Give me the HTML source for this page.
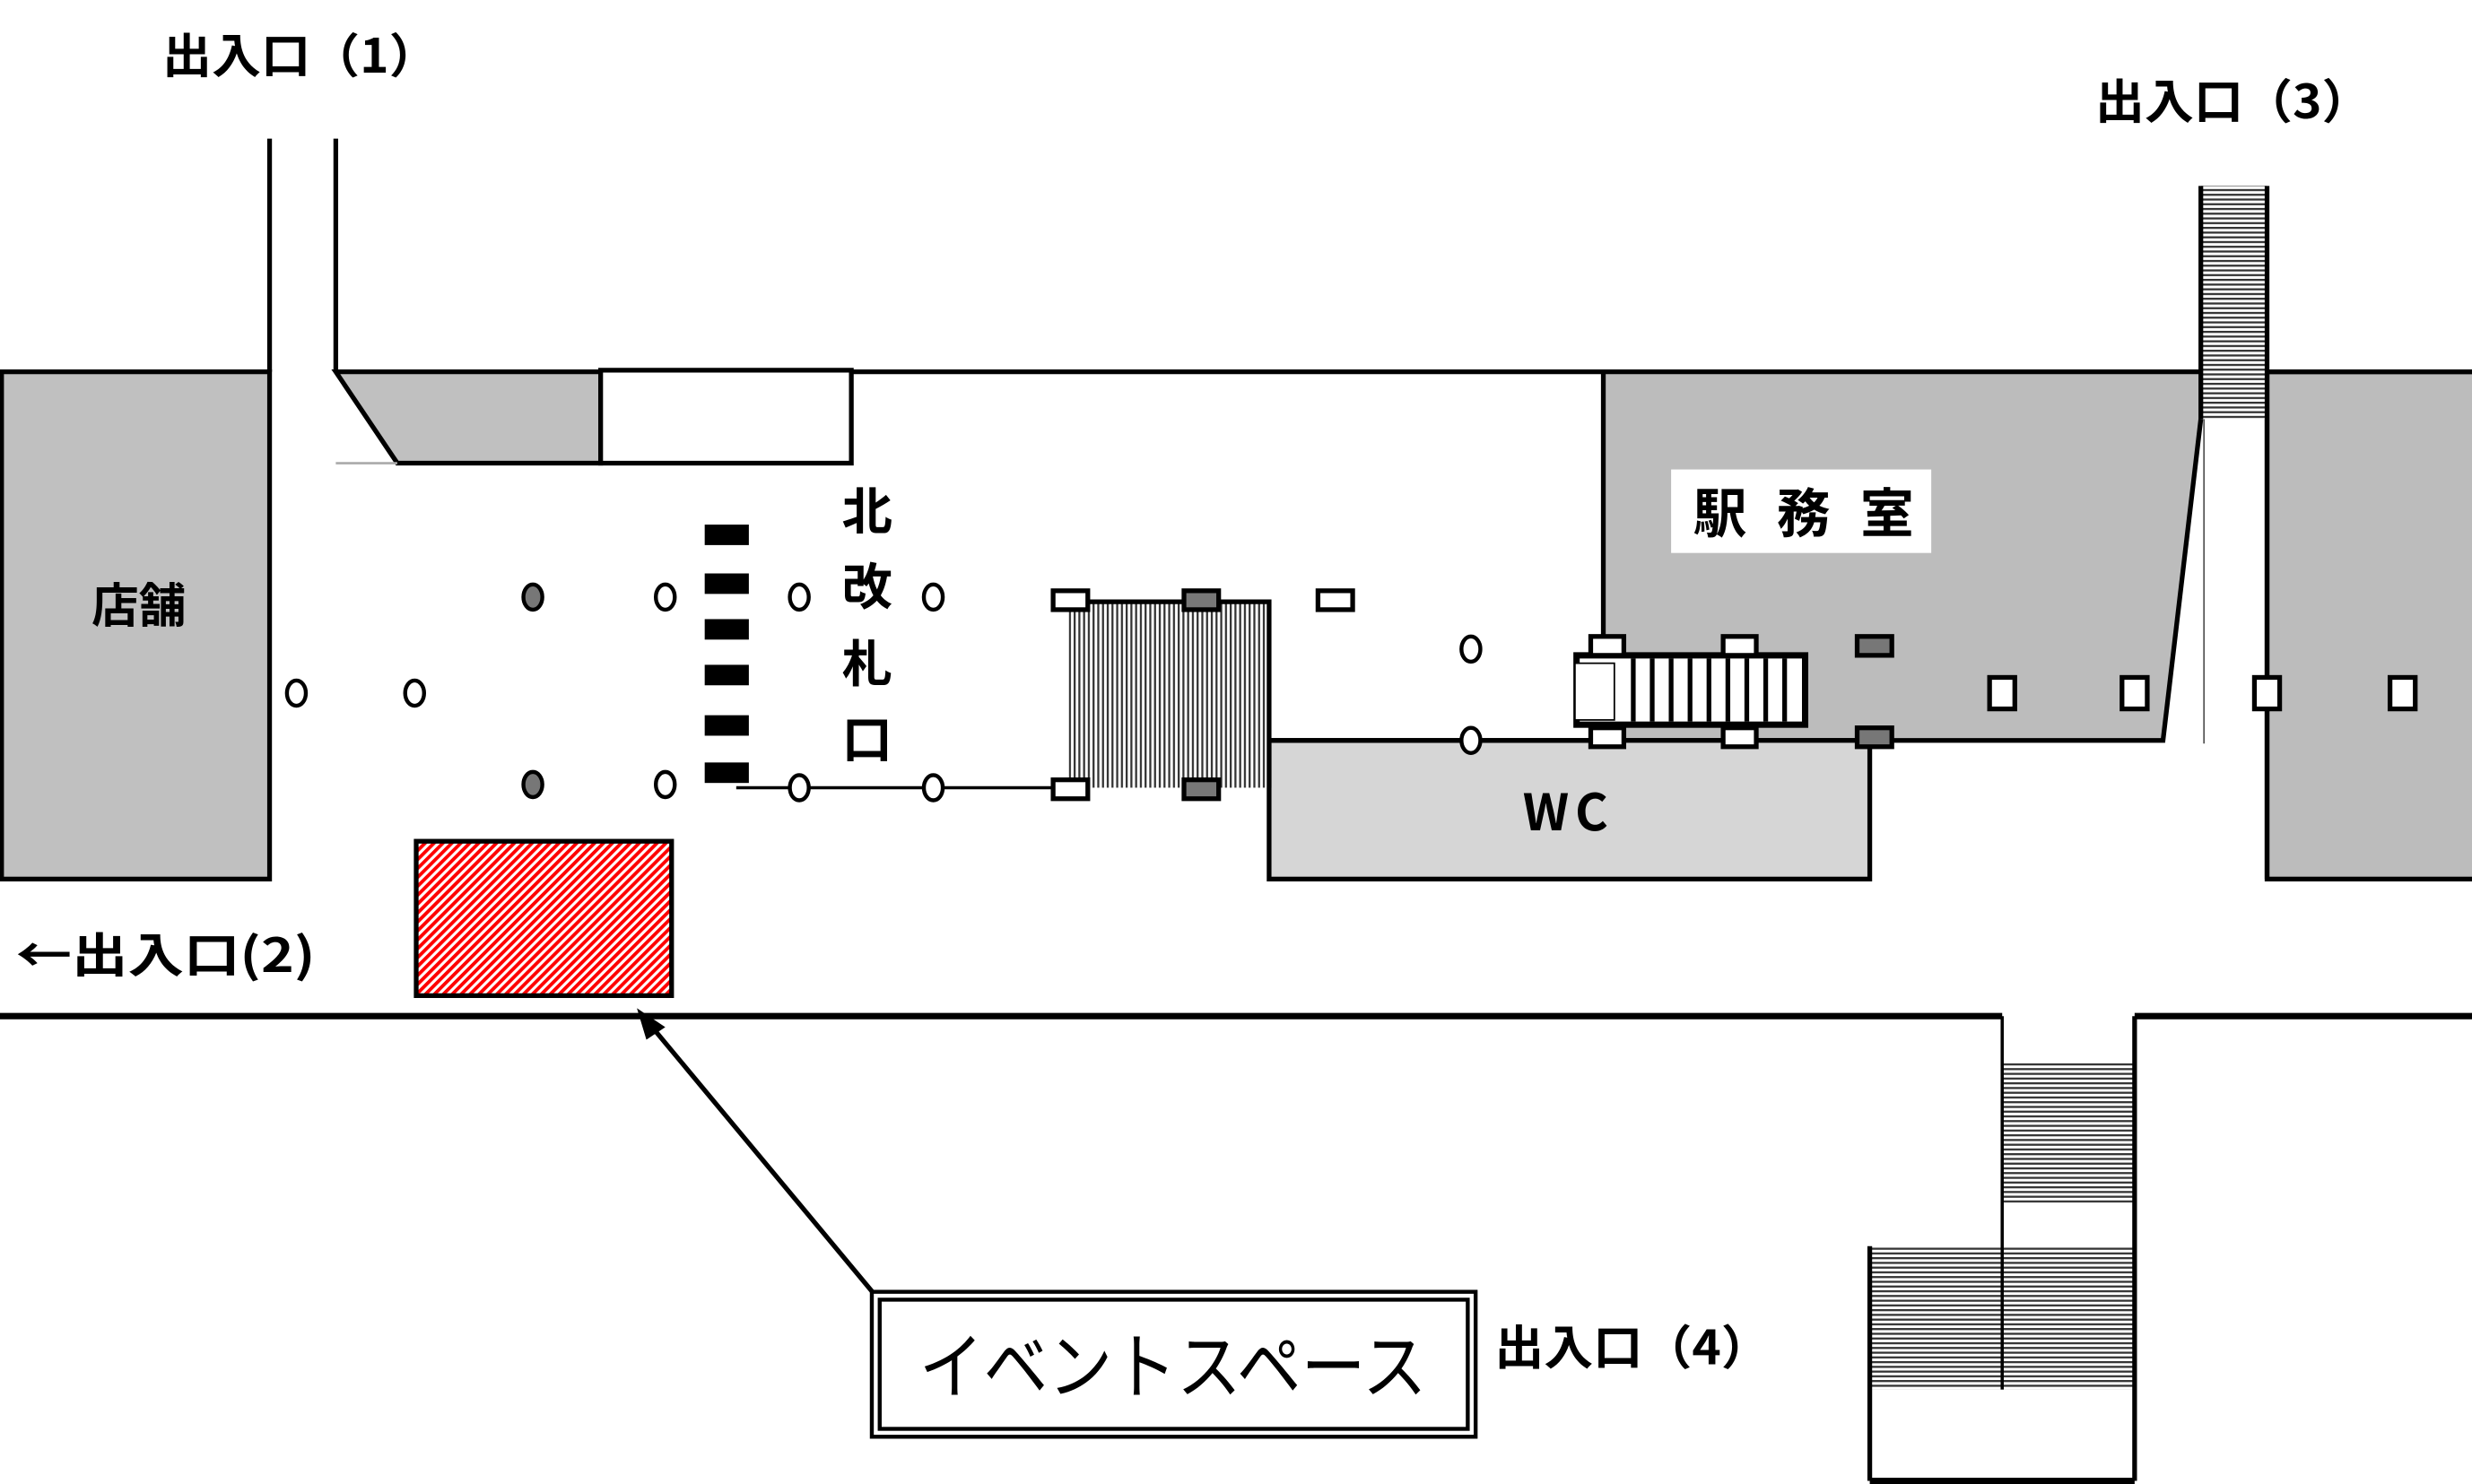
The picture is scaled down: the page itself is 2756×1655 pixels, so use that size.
<!DOCTYPE html>
<html><head><meta charset="utf-8"><style>
html,body{margin:0;padding:0;background:#fff;}
svg{display:block;}
text{font-family:"Noto Sans CJK JP","Liberation Sans",sans-serif;fill:#000;}
</style></head><body>
<svg width="2756" height="1655" viewBox="0 0 1568 942" preserveAspectRatio="none" xmlns="http://www.w3.org/2000/svg">
<defs>
<pattern id="red" width="4" height="4" patternUnits="userSpaceOnUse" patternTransform="rotate(45)">
<rect width="4" height="4" fill="#fff"/><rect width="2.2" height="4" fill="#f00"/></pattern>
<pattern id="vh" width="3" height="3" patternUnits="userSpaceOnUse"><rect width="3" height="3" fill="#fff"/><rect width="1.3" height="3" fill="#333"/></pattern>
<pattern id="hh" width="3" height="3" patternUnits="userSpaceOnUse"><rect width="3" height="3" fill="#fff"/><rect width="3" height="1.3" fill="#333"/></pattern>
</defs>
<rect width="1568" height="942" fill="#fff"/>

<polygon points="1017,236 1396,236 1396,266 1372,470 1017,470" fill="#bcbcbc"/>
<polyline points="1017,236 1017,470 1372,470 1396,266" fill="none" stroke="#000" stroke-width="3"/>
<line x1="1398" y1="266" x2="1398" y2="472" stroke="#555" stroke-width="1"/>
<rect x="1438" y="236" width="132" height="322" fill="#bcbcbc" stroke="#000" stroke-width="3"/>
<rect x="1396" y="118" width="42" height="148" fill="url(#hh)"/>
<line x1="1396" y1="118" x2="1396" y2="266" stroke="#000" stroke-width="3"/>
<line x1="1438" y1="118" x2="1438" y2="558" stroke="#000" stroke-width="3"/>

<rect x="805" y="470" width="381" height="88" fill="#d6d6d6" stroke="#000" stroke-width="3"/>
<text x="995" y="527" font-size="32" font-weight="bold" text-anchor="middle" letter-spacing="4" font-family="Liberation Sans">WC</text>

<rect x="1" y="236" width="170" height="322" fill="#c0c0c0" stroke="#000" stroke-width="3"/>
<text x="88" y="395" font-size="30" font-weight="bold" text-anchor="middle">店舗</text>

<line x1="171" y1="88" x2="171" y2="236" stroke="#000" stroke-width="3"/>
<line x1="213" y1="88" x2="213" y2="236" stroke="#000" stroke-width="3"/>
<line x1="213" y1="236" x2="1396" y2="236" stroke="#000" stroke-width="3"/>
<line x1="1438" y1="236" x2="1568" y2="236" stroke="#000" stroke-width="3"/>
<polygon points="213,236 381,236 381,294 252,294" fill="#c0c0c0" stroke="#000" stroke-width="3"/>
<line x1="213" y1="294" x2="252" y2="294" stroke="#aaa" stroke-width="1.5"/>
<rect x="381" y="235" width="159" height="59" fill="#fff" stroke="#000" stroke-width="3"/>

<g fill="#000">
<rect x="447" y="333" width="28" height="13"/><rect x="447" y="364" width="28" height="13"/>
<rect x="447" y="393" width="28" height="13"/><rect x="447" y="422" width="28" height="13"/>
<rect x="447" y="454" width="28" height="13"/><rect x="447" y="484" width="28" height="13"/>
</g>
<line x1="467" y1="500" x2="677" y2="500" stroke="#000" stroke-width="2"/>
<line x1="805" y1="470" x2="1017" y2="470" stroke="#000" stroke-width="3"/>

<g stroke="#000" stroke-width="2.5">
<ellipse cx="338" cy="379" rx="6" ry="8" fill="#777"/>
<ellipse cx="338" cy="498" rx="6" ry="8" fill="#777"/>
<ellipse cx="422" cy="379" rx="6" ry="8" fill="#fff"/>
<ellipse cx="422" cy="498" rx="6" ry="8" fill="#fff"/>
<ellipse cx="507" cy="379" rx="6" ry="8" fill="#fff"/>
<ellipse cx="592" cy="379" rx="6" ry="8" fill="#fff"/>
<ellipse cx="507" cy="500" rx="6" ry="8" fill="#fff"/>
<ellipse cx="592" cy="500" rx="6" ry="8" fill="#fff"/>
<ellipse cx="188" cy="440" rx="6" ry="8" fill="#fff"/>
<ellipse cx="263" cy="440" rx="6" ry="8" fill="#fff"/>
<ellipse cx="933" cy="412" rx="6" ry="8" fill="#fff"/>
<ellipse cx="933" cy="470" rx="6" ry="8" fill="#fff"/>
</g>

<rect x="678" y="382" width="127" height="118" fill="url(#vh)"/>
<polyline points="678,382 805,382 805,500" fill="none" stroke="#000" stroke-width="3"/>
<g stroke="#000" stroke-width="3">
<rect x="668" y="375" width="22" height="12" fill="#fff"/>
<rect x="751" y="375" width="22" height="12" fill="#777"/>
<rect x="836" y="375" width="22" height="12" fill="#fff"/>
<rect x="668" y="495" width="22" height="12" fill="#fff"/>
<rect x="751" y="495" width="22" height="12" fill="#777"/>
</g>

<rect x="1000" y="416" width="145" height="44" fill="#fff" stroke="#000" stroke-width="4"/>
<g stroke="#000" stroke-width="3">
<line x1="1036" y1="418" x2="1036" y2="458"/><line x1="1048" y1="418" x2="1048" y2="458"/>
<line x1="1060" y1="418" x2="1060" y2="458"/><line x1="1072" y1="418" x2="1072" y2="458"/>
<line x1="1084" y1="418" x2="1084" y2="458"/><line x1="1096" y1="418" x2="1096" y2="458"/>
<line x1="1108" y1="418" x2="1108" y2="458"/><line x1="1120" y1="418" x2="1120" y2="458"/>
<line x1="1132" y1="418" x2="1132" y2="458"/>
</g>
<rect x="999" y="421" width="25" height="36" fill="#fff" stroke="#000" stroke-width="1"/>
<g stroke="#000" stroke-width="3">
<rect x="1009" y="404" width="21" height="12" fill="#fff"/>
<rect x="1093" y="404" width="21" height="12" fill="#fff"/>
<rect x="1009" y="462" width="21" height="12" fill="#fff"/>
<rect x="1093" y="462" width="21" height="12" fill="#fff"/>
<rect x="1178" y="404" width="22" height="12" fill="#777"/>
<rect x="1178" y="462" width="22" height="12" fill="#777"/>
<rect x="1262" y="430" width="16" height="20" fill="#fff"/>
<rect x="1346" y="430" width="16" height="20" fill="#fff"/>
<rect x="1430" y="430" width="16" height="20" fill="#fff"/>
<rect x="1516" y="430" width="16" height="20" fill="#fff"/>
</g>

<rect x="1060" y="298" width="165" height="53" fill="#fff"/>
<text x="1074" y="338" font-size="34" font-weight="bold" textLength="140" lengthAdjust="spacing">駅務室</text>

<g font-size="32" font-weight="bold" text-anchor="middle">
<text x="550" y="336">北</text><text x="550" y="384">改</text>
<text x="550" y="433">札</text><text x="550" y="481">口</text>
</g>

<line x1="0" y1="645" x2="1270" y2="645" stroke="#000" stroke-width="4"/>
<line x1="1354" y1="645" x2="1568" y2="645" stroke="#000" stroke-width="4"/>
<rect x="1270" y="674" width="84" height="90" fill="url(#hh)"/>
<rect x="1186" y="791" width="168" height="91" fill="url(#hh)"/>
<line x1="1270" y1="645" x2="1270" y2="882" stroke="#000" stroke-width="2"/>
<line x1="1354" y1="645" x2="1354" y2="940" stroke="#000" stroke-width="3"/>
<line x1="1186" y1="791" x2="1186" y2="940" stroke="#000" stroke-width="3"/>
<line x1="1186" y1="940" x2="1354" y2="940" stroke="#000" stroke-width="4"/>

<rect x="264" y="534" width="162" height="98" fill="url(#red)" stroke="#000" stroke-width="3"/>
<line x1="555" y1="822" x2="412" y2="650" stroke="#000" stroke-width="3"/>
<polygon points="404,640 422,652 410,660" fill="#000"/>
<rect x="553" y="820" width="383" height="92" fill="#fff" stroke="#000" stroke-width="2.5"/>
<rect x="558" y="825" width="373" height="82" fill="none" stroke="#000" stroke-width="2.5"/>
<text x="583" y="884" font-size="46" textLength="322" lengthAdjust="spacingAndGlyphs">イベントスペース</text>

<g font-size="30" font-weight="bold">
<text x="103" y="46" textLength="175" lengthAdjust="spacingAndGlyphs">出入口（1）</text>
<text x="1329" y="75" textLength="175" lengthAdjust="spacingAndGlyphs">出入口（3）</text>
<text x="10" y="617" textLength="190" lengthAdjust="spacingAndGlyphs">←出入口(2)</text>
<text x="948" y="866" textLength="175" lengthAdjust="spacingAndGlyphs">出入口（4）</text>
</g>
</svg>
</body></html>
